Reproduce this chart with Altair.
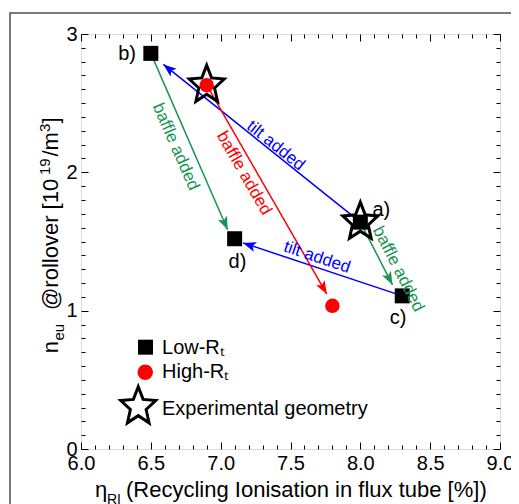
import math
import altair as alt
import pandas as pd

# ---------------- data ----------------
# Low-Rt cases a) b) c) d)
low_x = [8.0, 6.5, 8.3, 7.1]
low_y = [1.64, 2.86, 1.107, 1.52]
# High-Rt cases
high_x = [6.9, 7.8]
high_y = [2.63, 1.035]
# Experimental geometry
exp_x = [6.9, 8.0]
exp_y = [2.63, 1.64]

case_text = ["a)", "b)", "c)", "d)"]
case_text_x = [8.15, 6.33, 8.27, 7.12]
case_text_y = [1.73, 2.855, 0.945, 1.354]

arrow_x0 = [8.0, 8.3, 6.5, 8.0, 6.9]
arrow_y0 = [1.64, 1.107, 2.86, 1.64, 2.63]
arrow_x1 = [6.59, 7.16, 7.05, 8.23, 7.76]
arrow_y1 = [2.78, 1.49, 1.585, 1.187, 1.12]
arrow_color = ["#0000ff", "#0000ff", "#14964f", "#14964f", "#ff0000"]
arrow_label = ["tilt added", "tilt added", "baffle added", "baffle added", "baffle added"]
arrow_label_x = [7.394, 7.69, 6.678, 8.272, 7.167]
arrow_label_y = [2.193, 1.386, 2.185, 1.301, 1.993]

legend_text = ["Low-R\u209c", "High-R\u209c", "Experimental geometry"]
legend_sym_x = [6.462, 6.46, 6.41]
legend_sym_y = [0.736, 0.555, 0.306]
legend_text_x = [6.58, 6.58, 6.58]
legend_text_y = [0.687, 0.511, 0.246]

x_major = [6.0, 6.5, 7.0, 7.5, 8.0, 8.5, 9.0]
y_major = [0, 1, 2, 3]
x_minor = [round(6.0 + 0.1 * i, 1) for i in range(31) if i % 5 != 0]
y_minor = [round(0.1 * i, 1) for i in range(31) if i % 10 != 0]

xtitle_parts = ["\u03b7", "RI", "(Recycling Ionisation in flux tube [%])"]
ytitle_parts = ["n", "eu", "@rollover [10", "19", "/m", "3", "]"]

# ---------------- layout ----------------
W, H = 419, 415
FONT = "Liberation Sans"
kx, ky = W / 3.0, H / 3.0

xs = alt.Scale(domain=[6, 9], nice=False, zero=False)
ys = alt.Scale(domain=[0, 3], nice=False, zero=False)

# star symbol (unit box -1..1)
pts = []
for i in range(10):
    a = math.radians(-90 + 36 * i)
    r = 1.0 if i % 2 == 0 else 0.45
    pts.append((0.92 * r * math.cos(a), r * math.sin(a)))
STAR = "M" + "L".join(f"{px:.3f},{py:.3f}" for px, py in pts) + "Z"
HEAD = "M0,0L-0.38,1L0,0.78L0.38,1Z"

low_df = pd.DataFrame({"x": low_x, "y": low_y})
high_df = pd.DataFrame({"x": high_x, "y": high_y})
exp_df = pd.DataFrame({"x": exp_x, "y": exp_y})
case_df = pd.DataFrame({"x": case_text_x, "y": case_text_y, "t": case_text})

arr_df = pd.DataFrame({"x0": arrow_x0, "y0": arrow_y0, "x1": arrow_x1,
                       "y1": arrow_y1, "c": arrow_color})
arr_df["head"] = [
    math.degrees(math.atan2((b - a) * kx, (d - c) * ky)) % 360
    for a, b, c, d in zip(arrow_x0, arrow_x1, arrow_y0, arrow_y1)
]


def text_angle(a, b, c, d):
    sx, sy = (b - a) * kx, -(d - c) * ky
    if sx < 0:
        sx, sy = -sx, -sy
    return math.degrees(math.atan2(sy, sx)) % 360


lab_df = pd.DataFrame({"x": arrow_label_x, "y": arrow_label_y, "t": arrow_label,
                       "c": arrow_color})
lab_df["ang"] = [text_angle(a, b, c, d) for a, b, c, d in
                 zip(arrow_x0, arrow_x1, arrow_y0, arrow_y1)]

leg_df = pd.DataFrame({"sx": legend_sym_x, "sy": legend_sym_y,
                       "tx": legend_text_x, "ty": legend_text_y, "t": legend_text})

X = lambda f="x": alt.X(f"{f}:Q", scale=xs, axis=None)
Y = lambda f="y": alt.Y(f"{f}:Q", scale=ys, axis=None)


def axis_layer(ax, ay):
    return alt.Chart(low_df).mark_point(opacity=0).encode(
        x=alt.X("x:Q", scale=xs, axis=ax), y=alt.Y("y:Q", scale=ys, axis=ay))


common = dict(domain=False, grid=False, title=None, tickColor="black", tickWidth=1)
ax_bot = alt.Axis(orient="bottom", values=x_major, format=".1f", tickSize=7, offset=-7,
                  labelFontSize=20, labelPadding=4, labelColor="black", labelFont=FONT,
                  labelFlush=False, labelOverlap=False, **common)
ay_left = alt.Axis(orient="left", values=y_major, format="d", tickSize=7, offset=-7,
                   labelFontSize=20, labelPadding=4, labelColor="black", labelFont=FONT,
                   labelFlush=False, labelOverlap=False, **common)
ax_bot_m = alt.Axis(orient="bottom", values=x_minor, labels=False, tickSize=4, offset=-4, **common)
ay_left_m = alt.Axis(orient="left", values=y_minor, labels=False, tickSize=4, offset=-4, **common)
ax_top = alt.Axis(orient="top", values=x_major, labels=False, tickSize=7, offset=-7, **common)
ay_right = alt.Axis(orient="right", values=y_major, labels=False, tickSize=7, offset=-7, **common)
ax_top_m = alt.Axis(orient="top", values=x_minor, labels=False, tickSize=4, offset=-4, **common)
ay_right_m = alt.Axis(orient="right", values=y_minor, labels=False, tickSize=4, offset=-4, **common)

one = pd.DataFrame({"a": [0]})
frame = alt.Chart(one).mark_rect(fillOpacity=0, stroke="#4d4d4d", strokeWidth=1.5).encode(
    x=alt.value(-71), y=alt.value(-21), x2=alt.value(W + 120), y2=alt.value(H + 120))

rules = alt.Chart(arr_df).mark_rule(strokeWidth=1.5).encode(
    x=X("x0"), y=Y("y0"), x2="x1:Q", y2="y1:Q", color=alt.Color("c:N", scale=None))
heads = alt.Chart(arr_df).mark_point(shape=HEAD, filled=True, size=676, opacity=1).encode(
    x=X("x1"), y=Y("y1"), color=alt.Color("c:N", scale=None),
    angle=alt.Angle("head:Q", scale=None))

squares = alt.Chart(low_df).mark_square(size=225, color="black", opacity=1).encode(x=X(), y=Y())
circles = alt.Chart(high_df).mark_circle(size=209, color="#ff0000", opacity=1).encode(x=X(), y=Y())
stars = alt.Chart(exp_df).mark_point(shape=STAR, filled=False, size=1600, color="black",
                                     strokeWidth=3, opacity=1).encode(x=X(), y=Y())

case_lbl = alt.Chart(case_df).mark_text(fontSize=20, font=FONT, color="black",
                                        align="center", baseline="middle").encode(
    x=X(), y=Y(), text="t:N")
arr_lbl = alt.Chart(lab_df).mark_text(fontSize=17, font=FONT, align="center",
                                      baseline="middle").encode(
    x=X(), y=Y(), text="t:N", color=alt.Color("c:N", scale=None),
    angle=alt.Angle("ang:Q", scale=None))

leg_sq = alt.Chart(leg_df.iloc[[0]]).mark_square(size=225, color="black", opacity=1).encode(
    x=X("sx"), y=Y("sy"))
leg_ci = alt.Chart(leg_df.iloc[[1]]).mark_circle(size=240, color="#ff0000", opacity=1).encode(
    x=X("sx"), y=Y("sy"))
leg_st = alt.Chart(leg_df.iloc[[2]]).mark_point(shape=STAR, filled=False, size=1600,
                                                color="black", strokeWidth=3, opacity=1).encode(
    x=X("sx"), y=Y("sy"))
leg_tx = alt.Chart(leg_df).mark_text(fontSize=20, font=FONT, color="black", align="left",
                                     baseline="alphabetic").encode(
    x=X("tx"), y=Y("ty"), text="t:N")

# axis titles with sub/superscripts
xt = [
    alt.Chart(one).mark_text(text=xtitle_parts[0], fontSize=22, font=FONT, align="left",
                             baseline="alphabetic", color="black").encode(
        x=alt.value(14), y=alt.value(463)),
    alt.Chart(one).mark_text(text=xtitle_parts[1], fontSize=14, font=FONT, align="left",
                             baseline="alphabetic", color="black").encode(
        x=alt.value(26), y=alt.value(470)),
    alt.Chart(one).mark_text(text=xtitle_parts[2], fontSize=22, font=FONT, align="left",
                             baseline="alphabetic", color="black").encode(
        x=alt.value(45), y=alt.value(463)),
]
y_pos = [319.3, 306.5, 276, 141, 122.5, 98, 89.5]
y_base = [-22.7, -17.2, -22.7, -30.7, -22.7, -30.7, -22.7]
y_size = [22, 15, 22, 15, 22, 15, 22]
yt = [
    alt.Chart(one).mark_text(text=t, fontSize=s, font=FONT, align="left", angle=270,
                             baseline="alphabetic", color="black").encode(
        x=alt.value(bx), y=alt.value(py))
    for t, s, bx, py in zip(ytitle_parts, y_size, y_base, y_pos)
]

chart = alt.layer(
    frame,
    axis_layer(ax_bot, ay_left),
    axis_layer(ax_bot_m, ay_left_m),
    axis_layer(ax_top, ay_right),
    axis_layer(ax_top_m, ay_right_m),
    rules, heads, squares, circles, stars, case_lbl, arr_lbl,
    leg_sq, leg_ci, leg_st, leg_tx, *xt, *yt,
).resolve_axis(x="independent", y="independent").properties(
    width=W, height=H,
    autosize=alt.AutoSizeParams(type="none"),
    padding={"left": 73, "top": 26, "right": 11, "bottom": 55},
    background="white",
).configure_view(stroke="#222222", strokeWidth=1).configure(font=FONT)

chart.save("out.html", embed_options={"renderer": "svg", "actions": False})
